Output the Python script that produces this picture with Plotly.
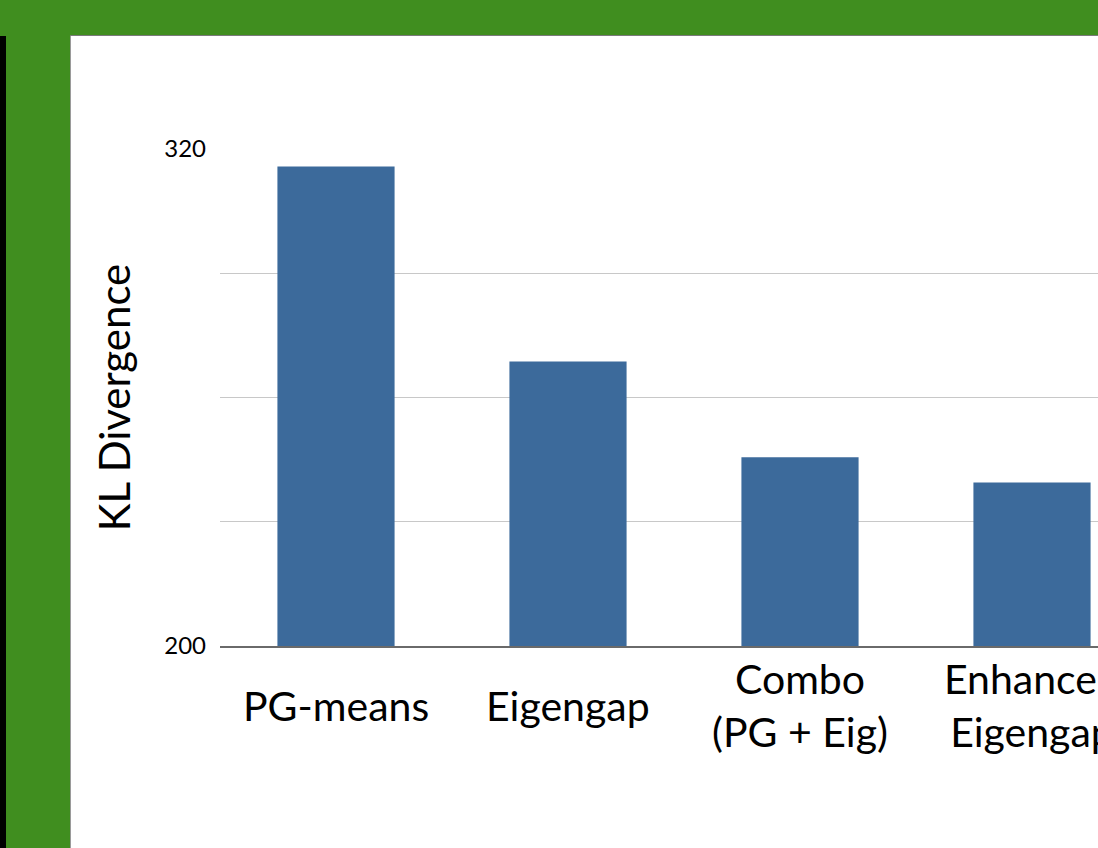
import plotly.graph_objects as go

# Data
categories = ["PG-means", "Eigengap", "Combo<br>(PG + Eig)", "Enhanced<br>Eigengap"]
kl_divergence = [315.8, 268.7, 245.6, 239.5]
y_tick_values = [200, 230, 260, 290, 320]
y_tick_labels = ["200", "", "", "", "320"]

W, H = 1098, 848
L, R, T, B = 220, 0, 149, 202
plot_w = W - L - R
plot_h = H - T - B
step_px = 232  # pixel distance between neighbouring categories

FONT = "Lato"
GREEN = "#408E1F"
BAR = "#3C6A9B"


def px_to_paper_x(px):
    return (px - L) / plot_w


def px_to_paper_y(py):
    return (H - B - py) / plot_h


x_idx = list(range(len(categories)))

fig = go.Figure(
    go.Bar(
        x=x_idx,
        y=kl_divergence,
        marker=dict(color=BAR, line=dict(width=0)),
        hoverinfo="skip",
    )
)

# slide frame: green band on top and left, dark strip at far left
shapes = [
    dict(type="rect", xref="paper", yref="paper", layer="below",
         x0=px_to_paper_x(0), x1=px_to_paper_x(W), y0=px_to_paper_y(0), y1=px_to_paper_y(36),
         fillcolor=GREEN, line=dict(width=0)),
    dict(type="rect", xref="paper", yref="paper", layer="below",
         x0=px_to_paper_x(0), x1=px_to_paper_x(71), y0=px_to_paper_y(35), y1=px_to_paper_y(H),
         fillcolor=GREEN, line=dict(width=0)),
    dict(type="rect", xref="paper", yref="paper", layer="below",
         x0=px_to_paper_x(0), x1=px_to_paper_x(6), y0=px_to_paper_y(36), y1=px_to_paper_y(H),
         fillcolor="#000000", line=dict(width=0)),
    dict(type="line", xref="paper", yref="paper", layer="below",
         x0=px_to_paper_x(70.5), x1=px_to_paper_x(70.5), y0=px_to_paper_y(35.5), y1=px_to_paper_y(H),
         line=dict(color="#9a9a9a", width=1)),
    dict(type="line", xref="paper", yref="paper", layer="below",
         x0=px_to_paper_x(70.5), x1=px_to_paper_x(W), y0=px_to_paper_y(35.5), y1=px_to_paper_y(35.5),
         line=dict(color="#7a7a7a", width=1)),
]

# category labels, vertically centred under each bar
annotations = []
for i, name in enumerate(categories):
    annotations.append(dict(
        x=i, xref="x", y=0, yref="paper",
        text=name, showarrow=False,
        xanchor="center", yanchor="middle", yshift=-59,
        font=dict(family=FONT, size=41, color="#000000"),
    ))

fig.update_layout(
    width=W, height=H,
    margin=dict(l=L, r=R, t=T, b=B, pad=0),
    paper_bgcolor="#FFFFFF",
    plot_bgcolor="#FFFFFF",
    showlegend=False,
    bargap=0.495,
    shapes=shapes,
    annotations=annotations,
    xaxis=dict(
        range=[-0.5, -0.5 + plot_w / step_px],
        showticklabels=False,
        showgrid=False,
        zeroline=False,
        showline=True, linecolor="#6a6a6a", linewidth=1.5,
        ticks="",
        fixedrange=True,
    ),
    yaxis=dict(
        range=[200, 320],
        tickvals=y_tick_values,
        ticktext=y_tick_labels,
        tickfont=dict(family=FONT, size=24, color="#000000"),
        ticklabelstandoff=13,
        ticks="",
        showgrid=True, gridcolor="#C8C8C8", gridwidth=1,
        zeroline=False,
        showline=False,
        title=dict(text="KL Divergence", font=dict(family=FONT, size=42, color="#000000"), standoff=20),
        fixedrange=True,
    ),
)

fig.write_html("out.html")
